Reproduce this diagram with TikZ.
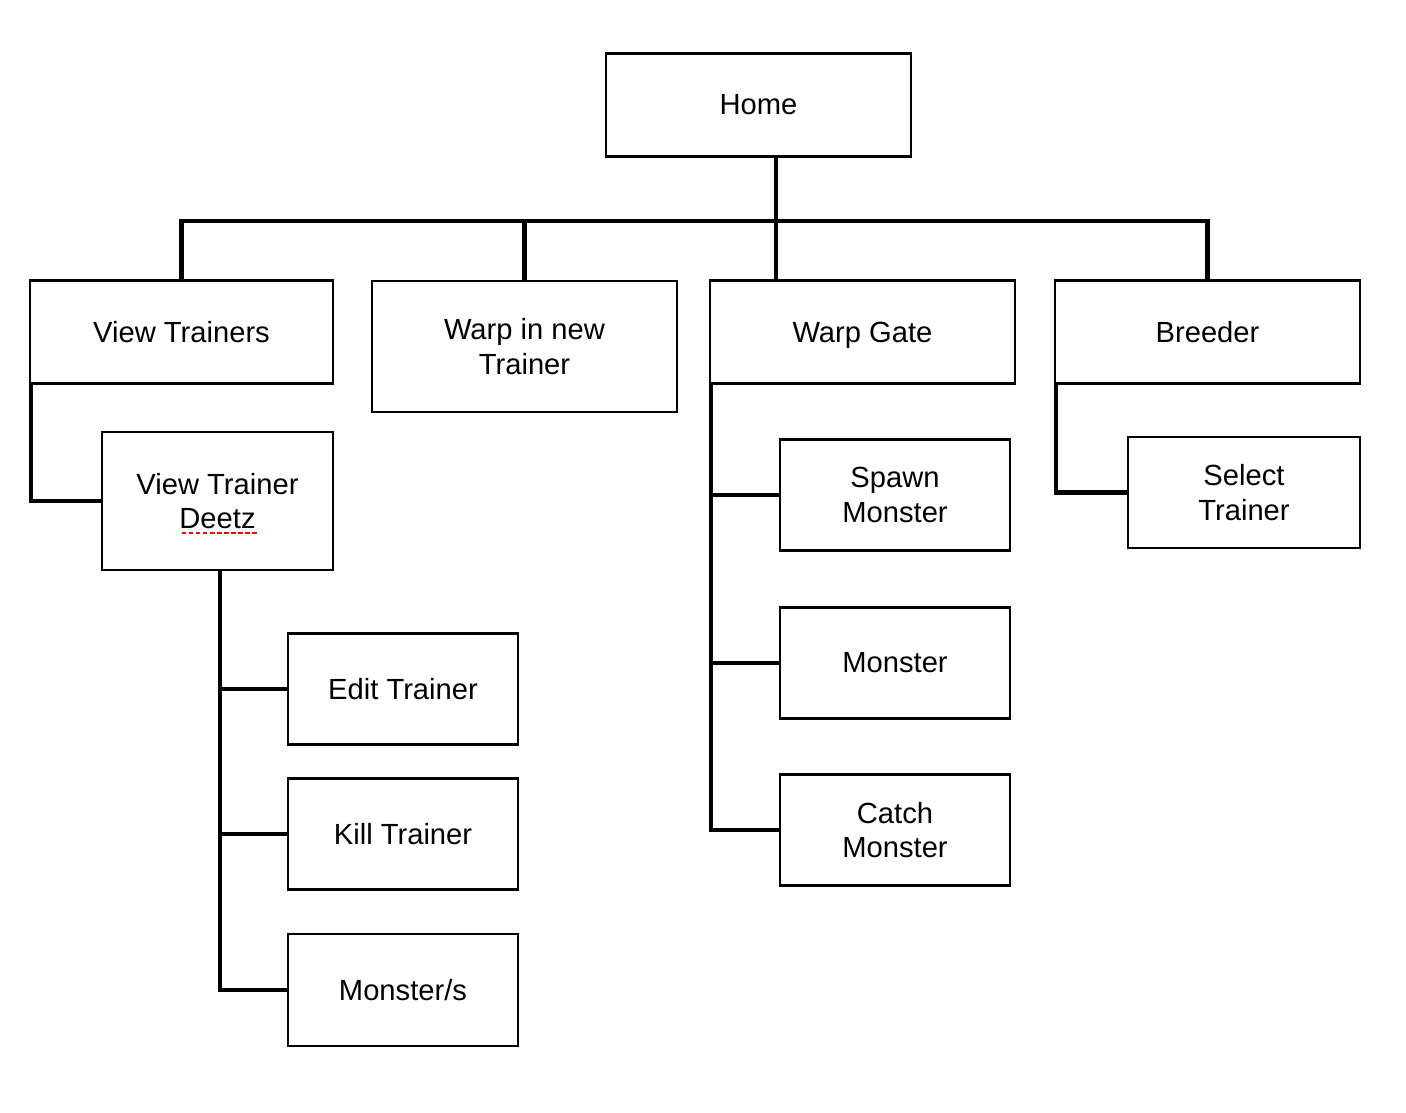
\documentclass[tikz,border=0pt]{standalone}
\usepackage{fontspec}
\setmainfont{Liberation Sans}
\usetikzlibrary{calc}

\begin{document}
\begin{tikzpicture}[x = .02cm, y = -.02cm,
    box/.style = {draw, line width=1.4pt, inner sep=0pt, align=center, font=\fontsize{16.6}{19.8}\selectfont},
    wide/.style = {box, minimum width=6.1cm, minimum height=2.06cm},
    narrow/.style = {box, minimum width=4.6cm, minimum height=2.22cm},
    link/.style = {line width=2.3pt}]
        \useasboundingbox (0,0) rectangle (1406,1112);
        \node[wide] (home) at (758.5,105) {Home};
        \node[wide, minimum width=6.06cm] (vtrain) at (181.5,332) {View Trainers};
        \node[wide, minimum height=2.62cm] (warpnew) at (524.5,346.5) {Warp in new\\Trainer};
        \node[wide, text depth=0pt] (warpgate) at (862.5,332) {Warp Gate};
        \node[wide] (breeder) at (1207.5,332) {Breeder};
        \node[narrow, minimum width=4.62cm, minimum height=2.76cm] (deetz) at (217.5,501) {View Trainer\\Deetz};
        \node[narrow] (edit) at (403,689) {Edit Trainer};
        \node[narrow] (kill) at (403,834) {Kill Trainer};
        \node[narrow, minimum height=2.24cm] (monsters) at (403,990) {Monster/s};
        \node[narrow] (spawn) at (895,495) {Spawn\\Monster};
        \node[narrow] (monster) at (895,663) {Monster};
        \node[narrow] (catch) at (895,830) {Catch\\Monster};
        \node[narrow, minimum width=4.64cm] (select) at (1244,492.5) {Select\\Trainer};
        \coordinate (hub) at (776,221);
        \coordinate (trunk) at ([xshift=.05cm]deetz.south);
        \draw[link] (home.south -| hub) -- (hub |- warpgate.north);
        \draw[link] (vtrain.north) |- (hub) -| (breeder.north);
        \draw[link] (warpnew.north) -- (warpnew.north |- hub);
        \draw[link] ([xshift=1.5pt]vtrain.south west) |- (deetz.west);
        \draw[link] (trunk) |- (monsters.west);
        \draw[link] (trunk |- edit.west) -- (edit.west);
        \draw[link] (trunk |- kill.west) -- (kill.west);
        \draw[link] ([xshift=1.5pt]warpgate.south west) |- (catch.west);
        \draw[link] ([xshift=1.5pt]warpgate.south west |- spawn.west) -- (spawn.west);
        \draw[link] ([xshift=1.5pt]warpgate.south west |- monster.west) -- (monster.west);
        \draw[link] ([xshift=1.5pt]breeder.south west) |- (select.west);
        \draw[red, line width=1.2pt, dash pattern=on 2.5pt off 1.5pt] (182,533) -- (259,533);
      \end{tikzpicture}
\end{document}
